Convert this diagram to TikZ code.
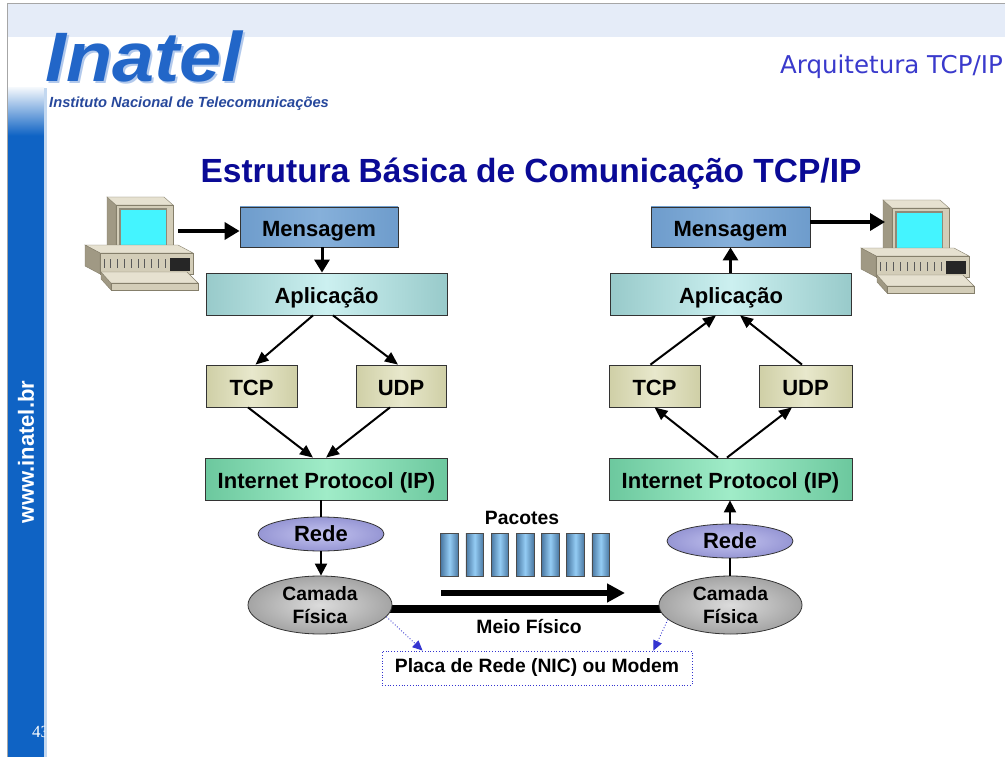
\documentclass[tikz,border=0pt]{standalone}
\usepackage{fontspec}
\setmainfont{Liberation Sans}
\newfontfamily\serifnum{Liberation Serif}
\newfontfamily\headfont{DejaVu Sans}
\usetikzlibrary{arrows.meta,shapes.geometric,calc}

\definecolor{stripblue}{HTML}{0F63C4}
\definecolor{bandblue}{HTML}{E5ECF8}
\definecolor{titleblue}{HTML}{0A0A96}
\definecolor{headblue}{HTML}{3A3ACC}
\definecolor{logoblue}{HTML}{2266C8}
\definecolor{logodark}{HTML}{27489C}
\definecolor{msgE}{HTML}{6E9CCC}
\definecolor{msgC}{HTML}{86B0DA}
\definecolor{appE}{HTML}{98CACA}
\definecolor{appC}{HTML}{CCF0F0}
\definecolor{tcpE}{HTML}{CFCFA6}
\definecolor{tcpC}{HTML}{E8E8CC}
\definecolor{ipE}{HTML}{6CC89E}
\definecolor{ipC}{HTML}{A0ECC8}
\definecolor{redeE}{HTML}{9696D4}
\definecolor{redeC}{HTML}{C4C4F0}
\definecolor{physE}{HTML}{A4A4A4}
\definecolor{physC}{HTML}{DCDCDC}
\definecolor{pktE}{HTML}{4A78A2}
\definecolor{pktC}{HTML}{94CCF4}
\definecolor{dotblue}{HTML}{3434D0}
\definecolor{pcTop}{HTML}{E6E1D0}
\definecolor{pcFront}{HTML}{D3CDB8}
\definecolor{pcSide}{HTML}{A09984}
\definecolor{pcLine}{HTML}{857F6B}
\definecolor{pcBezel}{HTML}{8F8A78}
\definecolor{screencyan}{HTML}{44F4FF}

\pgfdeclarelayer{deco}
\pgfdeclarelayer{wire}
\pgfsetlayers{deco,wire,main}

\tikzset{
  lbl/.style={font=\bfseries\fontsize{22}{24}\selectfont, text=black},
  lblsm/.style={font=\bfseries\fontsize{19.3}{23}\selectfont, text=black, align=center},
  box/.style={rectangle, draw=black!80, line width=0.8pt, inner sep=0pt, lbl,
    text height=19.5pt, text depth=0.7pt},
  msgbox/.style={box, left color=msgE, right color=msgE, middle color=msgC,
    minimum width=158pt, minimum height=40pt},
  appbox/.style={box, left color=appE, right color=appE, middle color=appC,
    minimum width=241pt, minimum height=42pt},
  tcpbox/.style={box, left color=tcpE, right color=tcpE, middle color=tcpC,
    minimum width=91pt, minimum height=42pt},
  ipbox/.style={box, left color=ipE, right color=ipE, middle color=ipC,
    minimum width=242pt, minimum height=42pt},
  redeell/.style={ellipse, draw=black!80, line width=0.8pt, inner sep=0pt,
    inner color=redeC, outer color=redeE, minimum width=126pt, minimum height=34pt, lbl},
  physell/.style={ellipse, draw=black!80, line width=0.8pt, inner sep=0pt,
    inner color=physC, outer color=physE, minimum width=144pt, minimum height=58pt, lblsm},
  packet/.style={rectangle, draw=black!70, line width=0.7pt, inner sep=0pt,
    left color=pktE, right color=pktE, middle color=pktC,
    minimum width=17.5pt, minimum height=43pt},
  nicbox/.style={rectangle, draw=dotblue, dotted, line width=0.8pt, inner sep=0pt,
    minimum width=310pt, minimum height=34pt, lblsm},
  bigarrow/.style={line width=3.5pt, -{Triangle[length=15pt,width=17pt]}},
  vertarrow/.style={line width=3pt, -{Triangle[length=13pt,width=15pt]}},
  diagarrow/.style={line width=2pt, -{Triangle[length=13pt,width=11pt]}},
  smallarrow/.style={line width=2pt, -{Triangle[length=12pt,width=12pt]}},
  plainwire/.style={line width=2pt},
  flowarrow/.style={line width=5.5pt, -{Triangle[length=18pt,width=18pt]}},
  dotarrow/.style={dotblue, dotted, line width=0.9pt, -{Triangle[length=10pt,width=9pt]}},
  pcface/.style={draw=pcLine, line width=0.4pt},
  computer/.pic={
    % monitor: side, top, front, bezel and screen
    \filldraw[pcface, fill=pcSide] (107,197) -- (116,205) -- (116,253) -- (107,245) -- cycle;
    \filldraw[pcface, fill=pcTop] (107,197) -- (164,197) -- (173,205) -- (116,205) -- cycle;
    \filldraw[pcface, fill=pcFront] (116,205) rectangle (173,253);
    \fill[pcBezel] (119,208.5) rectangle (167,247.5);
    \fill[pcFront!60!white] (120.5,246) rectangle (167,247.5);
    \fill[screencyan] (121,210.5) rectangle (166,246);
    % system unit
    \filldraw[pcface, fill=pcTop] (85,245) -- (178,245) -- (193,253) -- (100,253) -- cycle;
    \filldraw[pcface, fill=pcSide] (85,245) -- (100,253) -- (100,274) -- (85,266) -- cycle;
    \filldraw[pcface, fill=pcFront] (100,253) rectangle (193,274);
    \foreach \vx in {0,...,9}
      \draw[black!65, line width=1pt] ({104+\vx*6.8},259) -- ++(0,9);
    \fill[black!85] (170,258) rectangle (190,271);
    % keyboard
    \filldraw[pcface, fill=pcSide] (101,272) -- (111,283) -- (111,290) -- (101,279) -- cycle;
    \filldraw[pcface, fill=pcTop] (101,272) -- (187,272) -- (198,283) -- (111,283) -- cycle;
    \filldraw[pcface, fill=pcFront] (111,283) rectangle (198,290);
    \coordinate (-out) at (178,231);
    \coordinate (-in) at (109,219);
  }
}

\begin{document}
\begin{tikzpicture}[x=1pt,y=-1pt]
\useasboundingbox (0,0) rectangle (1005,757);

% ---- page decoration ----
\begin{pgfonlayer}{deco}
  \fill[white] (0,0) rectangle (1005,757);
  \fill[bandblue] (7,4) rectangle (1005,37);
  \fill[stripblue] (7,135) rectangle (44,757);
  \shade[top color=stripblue!6, bottom color=stripblue] (7,88) rectangle (44,135.5);
  \fill[stripblue!25] (44,88) rectangle (46.5,757);
  \draw[gray!70, line width=1pt] (7,757) -- (7,4) -- (1005,4);
\end{pgfonlayer}

% ---- header ----
\node[anchor=base west, inner sep=0pt, text=logoblue!35, xscale=1.08,
      font=\bfseries\itshape\fontsize{70}{72}\selectfont] (logoshadow) at (47,84) {Inatel};
\node[anchor=base west, inner sep=0pt, text=logoblue, xscale=1.08,
      font=\bfseries\itshape\fontsize{70}{72}\selectfont] (logo) at (45,82) {Inatel};
\node[anchor=base west, inner sep=0pt, text=logodark,
      font=\bfseries\itshape\fontsize{14.7}{16}\selectfont] (inst) at (49,107.5)
      {Instituto Nacional de Telecomunicações};
\node[anchor=base east, inner sep=0pt, text=headblue,
      font=\headfont\fontsize{24.5}{26}\selectfont] (arch) at (1003,74) {Arquitetura TCP/IP};
\node[anchor=base, inner sep=0pt, text=titleblue,
      font=\bfseries\fontsize{33.5}{36}\selectfont] (title) at (531,183)
      {Estrutura Básica de Comunicação TCP/IP};

% ---- side strip ----
\node[rotate=90, inner sep=0pt, text=white, font=\bfseries\fontsize{22}{24}\selectfont]
      (url) at (26,452) {www.inatel.br};
\begin{scope}
  \clip (7,700) rectangle (44,757);
  \node[anchor=base west, inner sep=0pt, text=white,
        font=\serifnum\fontsize{17}{18}\selectfont] (pagenum) at (32,737) {43};
\end{scope}

% ---- computers ----
\pic (pcL) at (0,0) {computer};
\pic (pcR) at (776,3) {computer};

% ---- sending stack ----
\node[msgbox] (mL) at (319,227) {Mensagem};
\node[appbox] (aL) at (326.5,294) {Aplicação};
\node[tcpbox] (tL) at (251.5,386) {TCP};
\node[tcpbox, minimum width=90pt] (uL) at (401,386) {UDP};
\node[ipbox] (iL) at (326.5,479) {Internet Protocol (IP)};
\node[redeell] (rL) at (321,534) {Rede};
\node[physell] (cL) at (320,605) {Camada\\Física};

% ---- receiving stack ----
\node[msgbox, minimum width=159pt] (mR) at (730.5,227) {Mensagem};
\node[appbox] (aR) at (731,294) {Aplicação};
\node[tcpbox] (tR) at (654.5,386) {TCP};
\node[tcpbox, minimum width=93pt] (uR) at (805.5,386) {UDP};
\node[ipbox, minimum width=243pt] (iR) at (730.5,479) {Internet Protocol (IP)};
\node[redeell] (rR) at (730,541) {Rede};
\node[physell, minimum width=143pt] (cR) at (730.5,605) {Camada\\Física};

% ---- packets on the wire ----
\node[lblsm] (pac) at (522,518) {Pacotes};
\foreach \i [count=\k] in {0,...,6}
  \node[packet] (p\k) at ({449.5+\i*25.2},554.5) {};
\coordinate (flowA) at (441,593);
\coordinate (flowB) at (625,593);
\draw[flowarrow] (flowA) -- (flowB);

\begin{pgfonlayer}{wire}
  \draw[line width=8pt] ([yshift=-4pt]cL.center) -- ([yshift=-4pt]cR.center);
\end{pgfonlayer}
\node[lblsm] (meio) at (529,627) {Meio Físico};
\node[nicbox] (nic) at (537,668) {Placa de Rede (NIC) ou Modem};

% ---- sending connectors ----
\draw[bigarrow] (pcL-out) -- (pcL-out -| mL.west);
\draw[vertarrow] ([xshift=3pt]mL.south) -- ([xshift=3pt]mL.south |- aL.north);
\draw[diagarrow] ([xshift=-13.5pt]aL.south) -- ([xshift=4pt]tL.north);
\draw[diagarrow] ([xshift=6.5pt]aL.south) -- ([xshift=-3pt]uL.north);
\draw[diagarrow] ([xshift=-3.5pt]tL.south) -- ([xshift=-13.5pt]iL.north);
\draw[diagarrow] ([xshift=-11pt]uL.south) -- ([xshift=-0.5pt]iL.north);
\draw[plainwire] (rL.north |- iL.south) -- (rL.north);
\draw[smallarrow] (rL.south) -- (rL.south |- cL.north);

% ---- receiving connectors ----
\draw[vertarrow] (mR.south |- aR.north) -- (mR.south);
\draw[diagarrow] ([xshift=-4pt]tR.north) -- ([xshift=-15pt]aR.south);
\draw[diagarrow] ([xshift=-3.5pt]uR.north) -- ([xshift=9pt]aR.south);
\draw[diagarrow] ([xshift=-12.5pt]iR.north) -- (tR.south);
\draw[diagarrow] ([xshift=-3.5pt]iR.north) -- ([xshift=-13.5pt]uR.south);
\draw[smallarrow] (rR.north) -- (rR.north |- iR.south);
\draw[plainwire] (cR.north -| rR.south) -- (rR.south);
\draw[bigarrow] (pcR-in -| mR.east) -- (pcR-in);

% ---- network card pointers ----
\draw[dotarrow] (cL.-10) -- ([xshift=41pt]nic.north west);
\draw[dotarrow] (cR.-167) -- ([xshift=-39pt]nic.north east);
\end{tikzpicture}
\end{document}
